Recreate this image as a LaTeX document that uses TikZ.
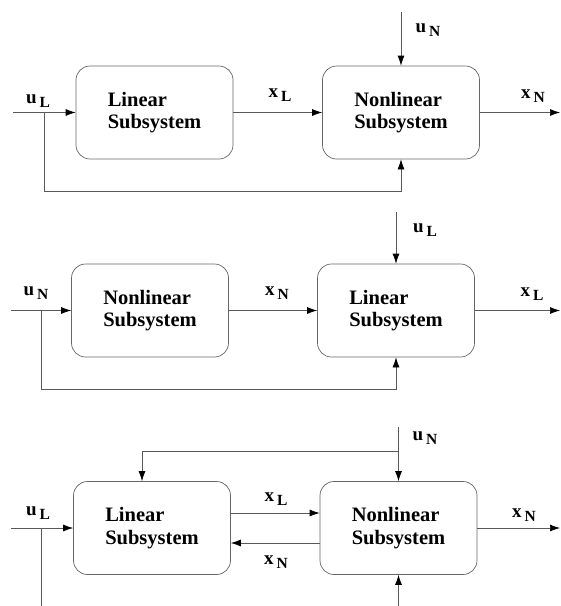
\documentclass[tikz,border=0pt]{standalone}
\usepackage{fontspec}
\setmainfont{Liberation Serif}
\usetikzlibrary{arrows.meta,positioning}
\newcommand{\sig}[2]{\textbf{#1}\hspace{3pt}\raisebox{-4pt}{\fontsize{15.5}{15.5}\selectfont\textbf{#2}}}

\begin{document}
\begin{tikzpicture}[x=1pt,y=-1pt,
        sys/.style={draw=black!60,line width=0.7pt,rounded corners=14pt,
                    minimum width=157pt,minimum height=93pt,align=left,
                    font=\fontsize{20.5}{22.5}\selectfont\bfseries},
        lbl/.style={font=\fontsize{19}{19}\selectfont,inner sep=0pt},
        wire/.style={draw=black!65,line width=0.7pt},
        arr/.style={wire,-{Latex[length=10pt,width=7pt,color=black]}}
      ]
        \useasboundingbox (0,0) rectangle (561,606);
        % first arrangement
        \node[sys] (lin1) at (154.5,112.5) {Linear\\Subsystem};
        \node[sys] (non1) at (401,112.5) {Nonlinear\\Subsystem};
        \coordinate (in1) at (13,112.5);
        \coordinate (br1) at (44,112.5);
        \coordinate (fb1) at (401,191);
        \coordinate (un1) at (401,12);
        \coordinate (out1) at (560,112.5);
        \draw[arr] (in1) -- (lin1);
        \draw[arr] (lin1) -- (non1);
        \draw[arr] (br1) |- (fb1) -- (non1.south);
        \draw[arr] (un1) -- (non1.north);
        \draw[arr] (non1) -- (out1);
        \node[lbl] (ul1) at (38,101) {\sig{u}{L}};
        \node[lbl] (xl1) at (280,95) {\sig{x}{L}};
        \node[lbl] (un1l) at (428,30) {\sig{u}{N}};
        \node[lbl] (xn1) at (533,96) {\sig{x}{N}};
        % second arrangement
        \node[sys] (non2) at (150,310.5) {Nonlinear\\Subsystem};
        \node[sys] (lin2) at (396,310.5) {Linear\\Subsystem};
        \coordinate (in2) at (11,310.5);
        \coordinate (br2) at (41,310.5);
        \coordinate (fb2) at (396,389);
        \coordinate (ul2) at (396,212);
        \coordinate (out2) at (560,310.5);
        \draw[arr] (in2) -- (non2);
        \draw[arr] (non2) -- (lin2);
        \draw[arr] (br2) |- (fb2) -- (lin2.south);
        \draw[arr] (ul2) -- (lin2.north);
        \draw[arr] (lin2) -- (out2);
        \node[lbl] (un2) at (36,293) {\sig{u}{N}};
        \node[lbl] (xn2) at (277,293) {\sig{x}{N}};
        \node[lbl] (ul2l) at (425,230) {\sig{u}{L}};
        \node[lbl] (xl2) at (532,294) {\sig{x}{L}};
        % third arrangement
        \node[sys] (lin3) at (152,528) {Linear\\Subsystem};
        \node[sys] (non3) at (398.5,528) {Nonlinear\\Subsystem};
        \coordinate (in3) at (11,528);
        \coordinate (br3) at (41,528);
        \coordinate (dn3) at (41,606);
        \coordinate (un3) at (398.5,427);
        \coordinate (jn3) at (398.5,451);
        \coordinate (up3) at (398.5,606);
        \coordinate (out3) at (560,528);
        \draw[arr] (in3) -- (lin3);
        \draw[wire] (br3) -- (dn3);
        \draw[arr] ([yshift=15pt]lin3.east) -- ([yshift=15pt]non3.west);
        \draw[arr] ([yshift=-15pt]non3.west) -- ([yshift=-15pt]lin3.east);
        \draw[arr] (un3) -- (non3.north);
        \draw[arr] (jn3) -| ([xshift=-10pt]lin3.north);
        \draw[arr] (up3) -- (non3.south);
        \draw[arr] (non3) -- (out3);
        \node[lbl] (ul3) at (38,513) {\sig{u}{L}};
        \node[lbl] (xl3) at (276,499) {\sig{x}{L}};
        \node[lbl] (xn3) at (276,562) {\sig{x}{N}};
        \node[lbl] (un3l) at (425,438) {\sig{u}{N}};
        \node[lbl] (xn3r) at (524,515) {\sig{x}{N}};
      \end{tikzpicture}
\end{document}
